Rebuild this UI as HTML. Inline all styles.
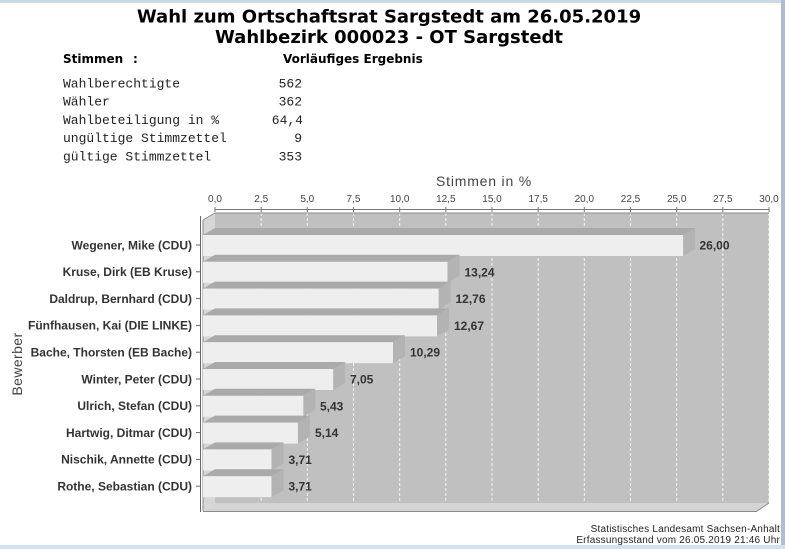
<!DOCTYPE html>
<html><head><meta charset="utf-8"><style>
html,body{margin:0;padding:0;background:#fff;}
svg{display:block;}
</style></head><body>
<svg width="785" height="549" viewBox="0 0 785 549" xmlns="http://www.w3.org/2000/svg">
<rect x="0" y="0" width="785" height="549" fill="#ffffff"/>
<!-- window borders -->
<rect x="0" y="0" width="785" height="3" fill="#c9d9ea"/>
<rect x="0" y="3" width="781" height="2" fill="#fdf9ec"/>
<rect x="781" y="0" width="4" height="549" fill="#aebdd0"/>
<rect x="0" y="545" width="785" height="4" fill="#d3e1ee"/>

<!-- Titles -->
<g font-family="'DejaVu Sans', sans-serif" font-weight="bold" font-size="18" fill="#000" text-anchor="middle">
<text x="389" y="22.5">Wahl zum Ortschaftsrat Sargstedt am 26.05.2019</text>
<text x="389" y="43">Wahlbezirk 000023 - OT Sargstedt</text>
</g>
<g font-family="'DejaVu Sans', sans-serif" font-weight="bold" font-size="12" fill="#000">
<text x="63" y="63">Stimmen</text>
<text x="133" y="63">:</text>
<text x="283" y="63">Vorläufiges Ergebnis</text>
</g>
<g font-family="'Liberation Mono', monospace" font-size="13" fill="#222">
<text x="63" y="87.5">Wahlberechtigte</text>
<text x="63" y="105.5">Wähler</text>
<text x="63" y="124">Wahlbeteiligung in %</text>
<text x="63" y="142">ungültige Stimmzettel</text>
<text x="63" y="160.5">gültige Stimmzettel</text>
<g text-anchor="end">
<text x="302" y="87.5">562</text>
<text x="302" y="105.5">362</text>
<text x="303" y="124">64,4</text>
<text x="302" y="142">9</text>
<text x="302" y="160.5">353</text>
</g>
</g>

<!-- axis title -->
<text x="484" y="186" font-family="'Liberation Sans', sans-serif" font-size="14" letter-spacing="0.8" fill="#444" text-anchor="middle">Stimmen in %</text>

<!-- tick labels -->
<g font-family="'Liberation Sans', sans-serif" font-size="10" fill="#444" text-anchor="middle">
<text x="215" y="202">0,0</text>
<text x="261.2" y="202">2,5</text>
<text x="307.3" y="202">5,0</text>
<text x="353.5" y="202">7,5</text>
<text x="399.7" y="202">10,0</text>
<text x="445.8" y="202">12,5</text>
<text x="492" y="202">15,0</text>
<text x="538.2" y="202">17,5</text>
<text x="584.3" y="202">20,0</text>
<text x="630.5" y="202">22,5</text>
<text x="676.7" y="202">25,0</text>
<text x="722.8" y="202">27,5</text>
<text x="769" y="202">30,0</text>
</g>

<!-- range axis line + ticks -->
<line x1="215" y1="209.5" x2="769" y2="209.5" stroke="#777" stroke-width="1"/>
<g stroke="#777" stroke-width="1">
<line x1="215" y1="207" x2="215" y2="212"/>
<line x1="261.2" y1="207" x2="261.2" y2="212"/>
<line x1="307.3" y1="207" x2="307.3" y2="212"/>
<line x1="353.5" y1="207" x2="353.5" y2="212"/>
<line x1="399.7" y1="207" x2="399.7" y2="212"/>
<line x1="445.8" y1="207" x2="445.8" y2="212"/>
<line x1="492" y1="207" x2="492" y2="212"/>
<line x1="538.2" y1="207" x2="538.2" y2="212"/>
<line x1="584.3" y1="207" x2="584.3" y2="212"/>
<line x1="630.5" y1="207" x2="630.5" y2="212"/>
<line x1="676.7" y1="207" x2="676.7" y2="212"/>
<line x1="722.8" y1="207" x2="722.8" y2="212"/>
<line x1="769" y1="207" x2="769" y2="212"/>
</g>

<!-- 3D plot walls -->
<rect x="215" y="213" width="554" height="290" fill="#c0c0c0"/>
<polygon points="203,220 215,213 215,503 203,511" fill="#d6d6d6"/>
<polygon points="203,511 215,503 769,503 757,511" fill="#d4d4d4"/>
<!-- gridlines -->
<g stroke="#f4f4f4" stroke-width="1" stroke-dasharray="3,2">
<line x1="261.2" y1="213" x2="261.2" y2="503"/>
<line x1="307.3" y1="213" x2="307.3" y2="503"/>
<line x1="353.5" y1="213" x2="353.5" y2="503"/>
<line x1="399.7" y1="213" x2="399.7" y2="503"/>
<line x1="445.8" y1="213" x2="445.8" y2="503"/>
<line x1="492" y1="213" x2="492" y2="503"/>
<line x1="538.2" y1="213" x2="538.2" y2="503"/>
<line x1="584.3" y1="213" x2="584.3" y2="503"/>
<line x1="630.5" y1="213" x2="630.5" y2="503"/>
<line x1="676.7" y1="213" x2="676.7" y2="503"/>
<line x1="722.8" y1="213" x2="722.8" y2="503"/>
<line x1="769" y1="213" x2="769" y2="503"/>
</g>
<!-- outlines -->
<g stroke="#8a8a8a" stroke-width="1" fill="none">
<polyline points="203,220 215,213 769,213"/>
<line x1="203" y1="220" x2="203" y2="511"/>
<line x1="203" y1="511.5" x2="757" y2="511.5"/>
<line x1="757" y1="511" x2="769" y2="503"/>
</g>

<!-- bars -->
<g id="bars">
<polygon points="203,235 215,228 695.1,228 683.1,235" fill="#aaaaaa"/>
<polygon points="683.1,235 695.1,228 695.1,249 683.1,256" fill="#b3b3b3"/>
<rect x="203" y="235" width="480.1" height="21" fill="#eeeeee"/>

<polygon points="203,261.8 215,254.8 459.5,254.8 447.5,261.8" fill="#aaaaaa"/>
<polygon points="447.5,261.8 459.5,254.8 459.5,275.8 447.5,282.8" fill="#b3b3b3"/>
<rect x="203" y="261.8" width="244.5" height="21" fill="#eeeeee"/>

<polygon points="203,288.6 215,281.6 450.6,281.6 438.6,288.6" fill="#aaaaaa"/>
<polygon points="438.6,288.6 450.6,281.6 450.6,302.6 438.6,309.6" fill="#b3b3b3"/>
<rect x="203" y="288.6" width="235.6" height="21" fill="#eeeeee"/>

<polygon points="203,315.4 215,308.4 449,308.4 437,315.4" fill="#aaaaaa"/>
<polygon points="437,315.4 449,308.4 449,329.4 437,336.4" fill="#b3b3b3"/>
<rect x="203" y="315.4" width="234" height="21" fill="#eeeeee"/>

<polygon points="203,342.2 215,335.2 405,335.2 393,342.2" fill="#aaaaaa"/>
<polygon points="393,342.2 405,335.2 405,356.2 393,363.2" fill="#b3b3b3"/>
<rect x="203" y="342.2" width="190" height="21" fill="#eeeeee"/>

<polygon points="203,369 215,362 345.2,362 333.2,369" fill="#aaaaaa"/>
<polygon points="333.2,369 345.2,362 345.2,383 333.2,390" fill="#b3b3b3"/>
<rect x="203" y="369" width="130.2" height="21" fill="#eeeeee"/>

<polygon points="203,395.8 215,388.8 315.3,388.8 303.3,395.8" fill="#aaaaaa"/>
<polygon points="303.3,395.8 315.3,388.8 315.3,409.8 303.3,416.8" fill="#b3b3b3"/>
<rect x="203" y="395.8" width="100.3" height="21" fill="#eeeeee"/>

<polygon points="203,422.6 215,415.6 309.9,415.6 297.9,422.6" fill="#aaaaaa"/>
<polygon points="297.9,422.6 309.9,415.6 309.9,436.6 297.9,443.6" fill="#b3b3b3"/>
<rect x="203" y="422.6" width="94.9" height="21" fill="#eeeeee"/>

<polygon points="203,449.4 215,442.4 283.5,442.4 271.5,449.4" fill="#aaaaaa"/>
<polygon points="271.5,449.4 283.5,442.4 283.5,463.4 271.5,470.4" fill="#b3b3b3"/>
<rect x="203" y="449.4" width="68.5" height="21" fill="#eeeeee"/>

<polygon points="203,476.2 215,469.2 283.5,469.2 271.5,476.2" fill="#aaaaaa"/>
<polygon points="271.5,476.2 283.5,469.2 283.5,490.2 271.5,497.2" fill="#b3b3b3"/>
<rect x="203" y="476.2" width="68.5" height="21" fill="#eeeeee"/>
</g>

<!-- value labels -->
<g font-family="'Liberation Sans', sans-serif" font-weight="bold" font-size="12" fill="#333">
<text x="699.5" y="249.5">26,00</text>
<text x="464.5" y="276.3">13,24</text>
<text x="455.5" y="303.1">12,76</text>
<text x="454" y="329.9">12,67</text>
<text x="410" y="356.7">10,29</text>
<text x="350" y="383.5">7,05</text>
<text x="320" y="410.3">5,43</text>
<text x="315" y="437.1">5,14</text>
<text x="288.5" y="463.9">3,71</text>
<text x="288.5" y="490.7">3,71</text>
</g>

<!-- category axis -->
<line x1="200.5" y1="216" x2="200.5" y2="512" stroke="#666" stroke-width="1"/>
<g stroke="#666" stroke-width="1">
<line x1="196" y1="245" x2="200" y2="245"/>
<line x1="196" y1="271.8" x2="200" y2="271.8"/>
<line x1="196" y1="298.6" x2="200" y2="298.6"/>
<line x1="196" y1="325.4" x2="200" y2="325.4"/>
<line x1="196" y1="352.2" x2="200" y2="352.2"/>
<line x1="196" y1="379" x2="200" y2="379"/>
<line x1="196" y1="405.8" x2="200" y2="405.8"/>
<line x1="196" y1="432.6" x2="200" y2="432.6"/>
<line x1="196" y1="459.4" x2="200" y2="459.4"/>
<line x1="196" y1="486.2" x2="200" y2="486.2"/>
</g>
<g font-family="'Liberation Sans', sans-serif" font-weight="bold" font-size="12" fill="#333" text-anchor="end">
<text x="192" y="249.3">Wegener, Mike (CDU)</text>
<text x="192" y="276.1">Kruse, Dirk (EB Kruse)</text>
<text x="192" y="302.9">Daldrup, Bernhard (CDU)</text>
<text x="192" y="329.7">Fünfhausen, Kai (DIE LINKE)</text>
<text x="192" y="356.5">Bache, Thorsten (EB Bache)</text>
<text x="192" y="383.3">Winter, Peter (CDU)</text>
<text x="192" y="410.1">Ulrich, Stefan (CDU)</text>
<text x="192" y="436.9">Hartwig, Ditmar (CDU)</text>
<text x="192" y="463.7">Nischik, Annette (CDU)</text>
<text x="192" y="490.5">Rothe, Sebastian (CDU)</text>
</g>
<text x="0" y="0" transform="translate(22,364) rotate(-90)" font-family="'Liberation Sans', sans-serif" font-size="14" letter-spacing="0.4" fill="#444" text-anchor="middle">Bewerber</text>

<!-- footer -->
<g font-family="'Liberation Sans', sans-serif" font-size="10" fill="#222" text-anchor="end">
<text x="780" y="532" letter-spacing="0.2">Statistisches Landesamt Sachsen-Anhalt</text>
<text x="780" y="543" letter-spacing="0.2">Erfassungsstand vom 26.05.2019 21:46 Uhr</text>
</g>
</svg>
</body></html>
